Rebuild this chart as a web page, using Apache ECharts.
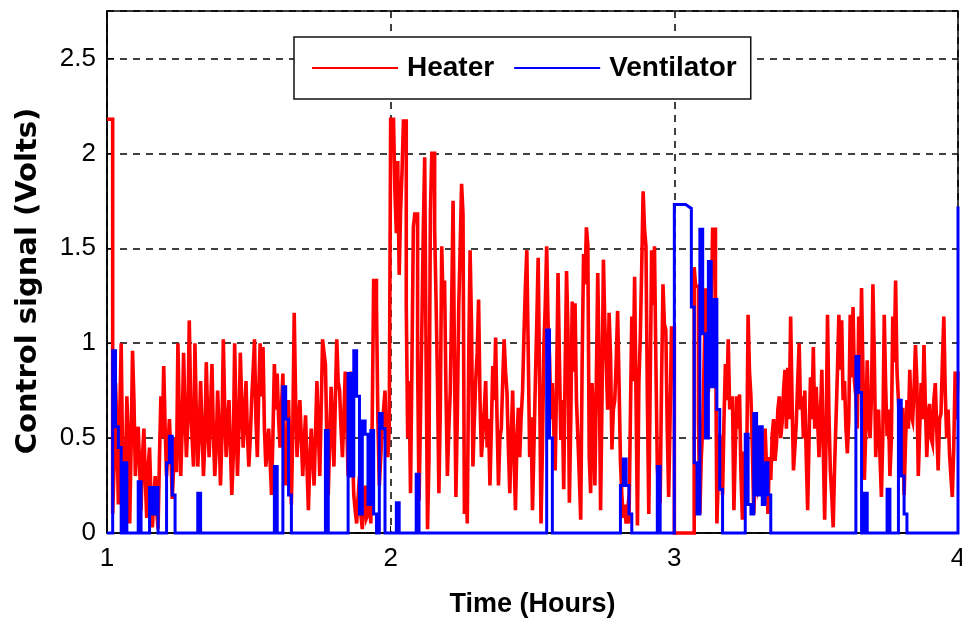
<!DOCTYPE html>
<html><head><meta charset="utf-8">
<script src="https://cdn.jsdelivr.net/npm/echarts@6/dist/echarts.min.js"></script>
<style>html,body{margin:0;padding:0;background:#fff}#c{width:962px;height:626px}</style>
</head><body><div id="c"></div>
<script>
// sampling grids of the recorded signals (hours)
const timeStart = 1;
const heaterStep = 0.005;
const ventStep = 0.01;

// Heater control signal (Volts), one sample per 0.005 h
const heaterHour1 = [
 2.18,2.18,2.18,2.18,0.10,0.35,0.79,0.55,0.15,0.62,
 1.00,0.40,0.08,0.30,0.72,0.50,0.05,0.45,0.96,0.70,
 0.30,0.48,0.56,0.35,0.12,0.40,0.55,0.28,0.08,0.35,
 0.45,0.20,0.03,0.18,0.30,0.12,0.02,0.40,0.72,0.50,
 0.88,0.55,0.30,0.45,0.60,0.42,0.18,0.35,0.50,0.32,
 1.00,0.60,0.30,0.55,0.95,0.62,0.40,0.58,1.12,0.70,
 0.50,0.35,1.00,0.62,0.35,0.52,0.80,0.55,0.30,0.48,
 0.90,0.60,0.40,0.65,0.89,0.52,0.30,0.45,0.75,0.55,
 0.25,0.50,1.02,0.66,0.40,0.58,0.70,0.45,0.20,0.40,
 1.00,0.60,0.30,0.55,0.95,0.68,0.45,0.62,0.80,0.52,
 0.35,0.50,0.70,0.85,1.02,0.60,0.40,0.75,1.00,0.72,
 0.98,0.55,0.35,0.45,0.55,0.38,0.20,0.52,0.89,0.65,
 0.84,0.60,0.45,0.66,0.84,0.50,0.25,0.45,0.70,0.40,
 0.15,0.55,1.16,0.70,0.40,0.58,0.70,0.50,0.30,0.48,
 0.62,0.35,0.12,0.38,0.55,0.40,0.25,0.52,0.80,0.55,
 0.30,0.65,1.02,0.95,0.89,0.50,0.20,0.48,0.77,0.55,
 0.35,0.70,1.02,0.80,0.75,0.55,0.40,0.62,0.85,0.58,
 0.30,0.65,0.85,0.45,0.20,0.12,0.05,0.18,0.30,0.10,
 0.02,0.15,0.25,0.08,0.10,0.20,0.05,0.60,1.33,1.33,
 1.20,0.60,0.25,0.40,0.55,0.65,0.75,0.50,0.40,0.55
];
const heaterHour2 = [
 2.18,2.18,2.18,1.80,1.58,1.96,1.36,1.70,1.90,2.17,
 2.17,1.20,0.50,0.80,0.21,0.90,1.61,1.68,1.68,0.90,
 0.17,0.60,1.09,1.59,1.98,0.90,0.02,0.39,1.68,2.00,
 2.00,1.60,1.23,0.80,0.21,0.65,1.51,1.20,1.33,0.74,
 0.30,0.55,0.74,1.20,1.75,0.90,0.19,0.62,1.19,1.50,
 1.84,1.68,0.10,0.35,0.05,0.90,1.49,1.10,0.35,0.60,
 0.81,0.95,1.23,0.70,0.40,0.52,0.65,0.80,0.45,0.60,
 0.25,0.55,0.88,0.70,1.03,0.60,0.25,0.50,0.55,0.80,
 1.02,0.85,0.74,0.45,0.21,0.50,0.75,0.40,0.12,0.48,
 0.66,0.40,0.61,0.75,1.05,1.30,1.49,0.95,0.40,0.61,
 0.12,0.45,0.79,1.10,1.45,0.80,0.05,0.45,0.98,1.20,
 1.51,1.10,0.93,0.60,0.79,0.55,0.33,0.80,1.37,0.90,
 0.49,0.70,0.23,0.85,1.38,1.07,0.16,0.60,1.22,0.85,
 1.21,0.70,0.50,0.30,0.07,0.90,1.47,1.31,1.61,1.52,
 0.40,0.21,0.79,0.60,0.25,0.80,1.37,0.90,0.12,0.70,
 1.44,1.10,0.89,0.65,1.16,0.94,0.44,0.65,0.70,0.90,
 1.17,0.80,0.38,0.20,0.08,0.15,0.05,0.12,0.05,0.60,
 1.14,0.80,1.35,0.70,0.04,0.79,1.03,1.40,1.80,1.60,
 1.51,0.70,0.10,0.80,1.49,1.20,1.51,0.90,0.35,0.20,
 0.16,0.80,1.31,1.10,1.07,0.55,0.19,0.60,1.08,1.08
];
const heaterHour3 = [
 0.00,0.00,0.00,0.00,0.00,0.00,0.00,0.00,0.00,0.00,
 0.00,0.00,0.00,0.00,1.40,1.30,1.30,0.60,0.10,0.40,
 0.55,0.90,1.28,1.28,0.74,0.95,1.15,1.60,1.60,1.17,
 0.05,0.30,0.52,0.35,0.20,0.59,0.89,0.70,1.02,0.66,
 0.66,0.72,0.12,0.45,0.72,0.55,0.73,0.30,0.07,0.42,
 0.42,0.33,1.15,0.85,0.72,0.45,0.10,0.30,0.26,0.55,
 0.40,0.22,0.28,0.45,0.55,0.35,0.10,0.40,0.28,0.52,
 0.60,0.38,0.47,0.65,0.72,0.50,0.58,0.75,0.86,0.55,
 0.87,0.60,1.14,0.70,0.33,0.45,0.58,0.80,1.00,0.65,
 0.72,0.50,0.75,0.40,0.12,0.50,0.82,0.60,0.98,0.55,
 0.77,0.60,0.40,0.62,0.86,0.45,0.07,0.50,1.15,0.63,
 0.33,0.20,0.03,0.35,0.60,0.85,1.15,0.86,1.12,0.70,
 0.80,0.55,0.42,0.60,1.15,0.82,1.19,0.80,0.72,0.55,
 1.14,0.75,1.29,0.84,0.28,0.55,0.91,0.60,0.50,0.72,
 1.31,0.93,0.40,0.60,0.65,0.40,0.19,0.52,1.15,0.77,
 0.51,0.65,0.30,0.49,1.14,0.90,1.33,0.85,0.70,0.52,
 0.47,0.66,0.20,0.48,0.70,0.55,0.86,0.62,0.59,0.75,
 0.99,0.80,0.30,0.55,0.79,0.60,0.99,0.68,0.40,0.62,
 0.68,0.50,0.47,0.70,0.79,0.55,0.33,0.60,0.63,0.90,
 1.14,0.75,0.50,0.65,0.42,0.30,0.19,0.45,0.85,0.60
];
const heaterEnd = 0.85;

// Ventilator control signal (Volts), one sample per 0.01 h
const ventHour1 = [
 0,0,0.96,0.56,0.45,0,0.37,0,0,0,
 0,0.27,0,0,0,0.24,0.10,0.24,0,0,
 0,0.37,0.51,0.20,0,0,0,0,0,0,
 0,0,0.21,0,0,0,0,0,0,0,
 0,0,0,0,0,0,0,0,0,0,
 0,0,0,0,0,0,0,0,0,0.35,
 0,0,0.77,0.60,0.20,0,0,0,0,0,
 0,0,0,0,0,0,0,0.54,0,0,
 0,0,0,0,0,0.84,0.30,0.96,0.72,0.10,
 0.59,0.52,0.15,0.54,0.10,0,0.63,0.55,0,0
];
const ventHour2 = [
 0,0,0.16,0,0,0,0,0,0,0.31,
 0,0,0,0,0,0,0,0,0,0,
 0,0,0,0,0,0,0,0,0,0,
 0,0,0,0,0,0,0,0,0,0,
 0,0,0,0,0,0,0,0,0,0,
 0,0,0,0,0,1.07,0.50,0,0,0,
 0,0,0,0,0,0,0,0,0,0,
 0,0,0,0,0,0,0,0,0,0,
 0,0.25,0.39,0.25,0.10,0,0,0,0,0,
 0,0,0,0,0.35,0,0,0,0,0
];
const ventHour3 = [
 1.73,1.73,1.73,1.73,1.72,1.71,1.19,0.37,0.10,1.60,
 1.05,0.50,1.43,0.77,1.23,0.65,0.23,0,0,0,
 0,0,0,0,0,0.52,0.15,0.10,0.63,0.20,
 0.56,0.15,0.37,0.20,0,0,0,0,0,0,
 0,0,0,0,0,0,0,0,0,0,
 0,0,0,0,0,0,0,0,0,0,
 0,0,0,0,0.93,0.74,0,0.21,0,0,
 0,0,0,0,0,0.23,0,0,0,0.70,
 0.30,0.10,0,0,0,0,0,0,0,0,
 0,0,0,0,0,0,0,0,0,0
];
const ventEnd = 1.72;

const seriesNames = ['Heater', 'Ventilator'];
const xTickLabels = ['1', '2', '3', '4'];
const yTickLabels = ['0', '0.5', '1', '1.5', '2', '2.5'];

function toPairs(values, endValue, step) {
  const out = values.map((v, i) => [+(timeStart + i * step).toFixed(4), v]);
  out.push([+(timeStart + values.length * step).toFixed(4), endValue]);
  return out;
}
const heaterData = toPairs(heaterHour1.concat(heaterHour2, heaterHour3), heaterEnd, heaterStep);
const ventData = toPairs(ventHour1.concat(ventHour2, ventHour3), ventEnd, ventStep);

const sans = '"Liberation Sans", Arial, sans-serif';

const chart = echarts.init(document.getElementById('c'), null, {renderer: 'canvas'});
chart.setOption({
  animation: false,
  backgroundColor: '#fff',
  grid: {left: 107, right: 4, top: 11, bottom: 93, containLabel: false, outerBoundsMode: 'none',
         show: true, borderColor: '#000', borderWidth: 1.5, backgroundColor: 'transparent'},
  legend: {
    data: seriesNames,
    icon: 'rect',
    left: 294, top: 37,
    itemWidth: 86, itemHeight: 2, itemGap: 20,
    padding: [14, 14, 14, 18],
    backgroundColor: '#fff', borderColor: '#111', borderWidth: 1.5,
    textStyle: {fontFamily: sans, fontWeight: 'bold', fontSize: 28, lineHeight: 34, color: '#000', padding: [0, 0, 0, 4]}
  },
  xAxis: {
    type: 'value', min: 1, max: 4, interval: 1,
    name: 'Time (Hours)', nameLocation: 'middle', nameGap: 58,
    nameTextStyle: {fontFamily: sans, fontWeight: 'bold', fontSize: 27, color: '#000'},
    axisLine: {show: true, onZero: false, lineStyle: {color: '#000', width: 1.5}},
    axisTick: {show: true, inside: true, length: 7, lineStyle: {color: '#000'}},
    axisLabel: {margin: 13, fontFamily: sans, fontSize: 26, color: '#000',
      formatter: v => xTickLabels[Math.round(v - 1)] ?? ''},
    splitLine: {show: true, lineStyle: {color: '#000', type: [7, 6], width: 1.5}}
  },
  yAxis: {
    type: 'value', min: 0, max: 2.75, interval: 0.5,
    name: 'Control signal (Volts)', nameLocation: 'middle', nameGap: 64,
    nameTextStyle: {fontFamily: '"DejaVu Sans", sans-serif', fontWeight: 'bold', fontSize: 29, color: '#000', padding: [0, 18, 0, 0]},
    axisLine: {show: true, lineStyle: {color: '#000', width: 1.5}},
    axisTick: {show: true, inside: true, length: 7, lineStyle: {color: '#000'}},
    axisLabel: {showMaxLabel: false, margin: 11, fontFamily: sans, fontSize: 26, color: '#000',
      formatter: v => { const k = Math.round(v / 0.5); return Math.abs(k * 0.5 - v) < 1e-6 ? (yTickLabels[k] ?? '') : ''; }},
    splitLine: {show: true, lineStyle: {color: '#000', type: [7, 6], width: 1.5}}
  },
  series: [
    {name: seriesNames[0], type: 'line', step: 'end', symbol: 'none', clip: false,
     data: heaterData, lineStyle: {color: '#ff0000', width: 3.6, join: 'miter', cap: 'butt'}, itemStyle: {color: '#ff0000'}},
    {name: seriesNames[1], type: 'line', step: 'end', symbol: 'none', clip: false,
     data: ventData, lineStyle: {color: '#0000ff', width: 3, join: 'miter', cap: 'butt'}, itemStyle: {color: '#0000ff'}}
  ]
});
</script>
</body></html>
